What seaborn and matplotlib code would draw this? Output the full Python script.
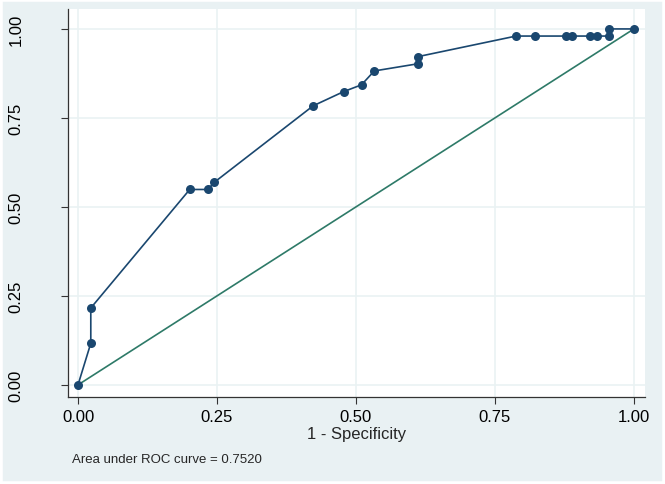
import numpy as np
import pandas as pd
import matplotlib
matplotlib.use("Agg")
import matplotlib.pyplot as plt
import seaborn as sns

# ROC points: 1 - specificity, sensitivity
one_minus_spec = [0.0, 0.023, 0.023, 0.201, 0.234, 0.245, 0.423, 0.478, 0.510, 0.533,
                  0.611, 0.611, 0.788, 0.822, 0.877, 0.889, 0.921, 0.934, 0.955, 0.955, 1.0]
sensitivity = [0.0, 0.117, 0.216, 0.549, 0.549, 0.569, 0.784, 0.824, 0.843, 0.882,
               0.902, 0.922, 0.980, 0.980, 0.980, 0.980, 0.980, 0.980, 0.980, 1.0, 1.0]
ref_x = [0.0, 1.0]
ref_y = [0.0, 1.0]
ticks = [0.0, 0.25, 0.5, 0.75, 1.0]
tick_labels = ["0.00", "0.25", "0.50", "0.75", "1.00"]
auc_text = "Area under ROC curve = 0.7520"

roc = pd.DataFrame({"fpr": one_minus_spec, "tpr": sensitivity})
diag = pd.DataFrame({"fpr": ref_x, "tpr": ref_y})

sns.set_theme(style="white")
plt.rcParams["font.family"] = ["Liberation Sans", "DejaVu Sans"]

bg = "#e9f1f3"
fig = plt.figure(figsize=(6.65, 4.85), dpi=100, facecolor=bg)
ax = fig.add_axes([68/665, 1-398/485, 577/665, 388/485])
ax.set_facecolor("white")

sns.lineplot(data=roc, x="fpr", y="tpr", estimator=None, sort=False, ax=ax,
             color="#1a476f", linewidth=1.2, marker="o", markersize=6.5,
             markeredgewidth=0, zorder=3)
sns.lineplot(data=diag, x="fpr", y="tpr", estimator=None, sort=False, ax=ax,
             color="#2e7a68", linewidth=1.2, zorder=2)

ax.set_xlim(-0.018, 1.02)
ax.set_ylim(-0.034, 1.056)
ax.set_xticks(ticks)
ax.set_xticklabels(tick_labels)
ax.set_yticks(ticks)
ax.set_yticklabels(tick_labels, rotation=90, va="center")
ax.grid(True, color="#eaf2f3", linewidth=1.2)
ax.set_axisbelow(True)
for s in ["top", "right"]:
    ax.spines[s].set_visible(False)
for s in ["left", "bottom"]:
    ax.spines[s].set_color("#333333")
    ax.spines[s].set_linewidth(0.9)
ax.tick_params(axis="both", direction="out", length=5, width=0.8, color="#333333",
               labelsize=12, labelcolor="black")
ax.tick_params(axis="x", bottom=True, pad=4)
ax.tick_params(axis="y", left=True, pad=27)
ax.set_xlabel("1 - Specificity", fontsize=12, labelpad=1)
ax.set_ylabel("")

fig.text(72/665, 1-460/485, auc_text, fontsize=9.5, va="center", ha="left")

# thin white frame round the figure
fig.patches.append(plt.Rectangle((0, 0), 1, 1, transform=fig.transFigure,
                                 fill=False, edgecolor="white", linewidth=4))

fig.savefig("out.png", dpi=100, facecolor=bg)
